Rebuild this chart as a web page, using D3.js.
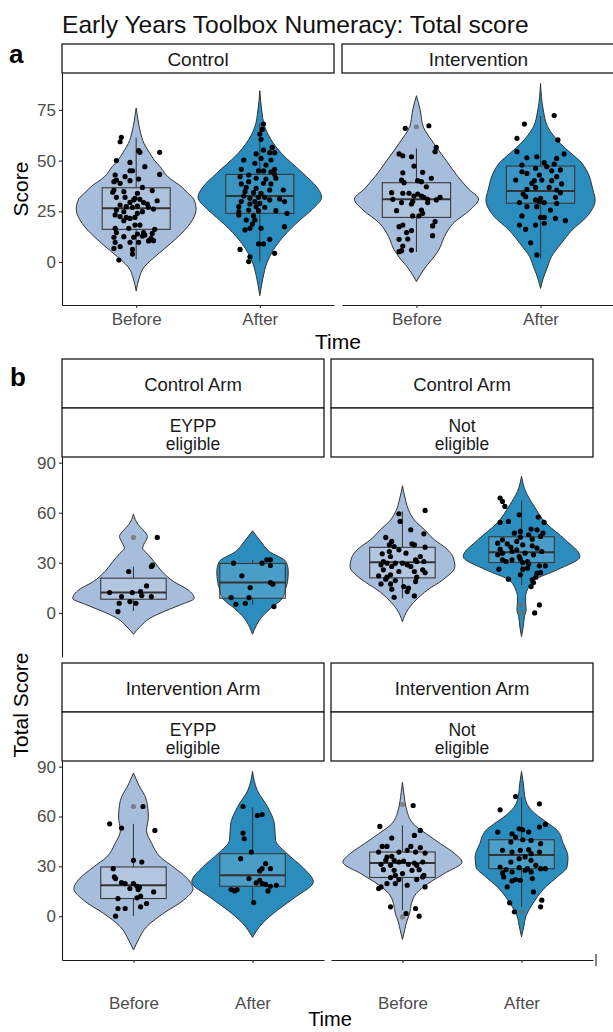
<!DOCTYPE html>
<html>
<head>
<meta charset="utf-8">
<script src="https://cdn.jsdelivr.net/npm/d3@7"></script>
<style>
body { margin: 0; background: #fff; }
</style>
</head>
<body>
<script>
const FONT = "'Liberation Sans', Arial, sans-serif";

// ---- categories / labels ----
const times = ["Before", "After"];
const timeFill = ["#a6bddb", "#2b8cbe"];
const armsA = ["Control", "Intervention"];
const armsB = ["Control Arm", "Intervention Arm"];
const eligB = [["EYPP", "eligible"], ["Not", "eligible"]];
const ticksA = [0, 25, 50, 75];
const ticksB = [0, 30, 60, 90];

// ---- panel a: jittered points [offset in category widths, score] ----
const ptsCtrlBefore = [[-0.12,61.5],[-0.13,59.3],[0.02,54.9],[0.03,54.1],[0.19,54.1],[-0.16,50],[-0.05,49.1],[0.07,47],[-0.05,45],[-0.03,45],[-0.17,42.9],[0.19,43.2],[-0.09,42.1],[0.02,40.9],[-0.16,40.4],[-0.18,39.6],[-0.05,40.1],[-0.13,38.8],[0.05,36.8],[-0.18,35.5],[-0.1,34.7],[-0.19,34.4],[0.01,33.9],[0.13,35.2],[-0.16,31.9],[-0.09,31.9],[-0.01,31.4],[-0.02,30.6],[0.03,30.9],[0.17,30.2],[-0.05,29.4],[0.06,29.3],[0.09,28.6],[-0.13,28.1],[-0.08,27.3],[0.01,27.6],[-0.03,27],[0.1,27],[0.14,26.1],[-0.16,25.6],[-0.1,24.8],[0.01,24],[0.05,24.8],[-0.17,23.2],[-0.13,22.4],[-0.05,21.5],[-0.01,22],[-0.1,20.4],[-0.08,22],[0.03,18.2],[-0.01,18.2],[-0.17,16.6],[-0.06,16.6],[0.15,16.1],[-0.16,14.5],[0.01,13.8],[0.06,14.5],[0.13,14.1],[-0.18,12.2],[-0.1,12.5],[0.05,12.8],[0.07,13.3],[-0.02,12.2],[0.12,11.7],[0.11,10.8],[-0.17,9.7],[0.02,9.7],[0.1,10.4],[0.14,10.5],[-0.05,9.7],[-0.13,7.6],[-0.03,6.2],[-0.18,6.7],[-0.03,3.9],[-0.14,1]];
const ptsCtrlAfter = [[0.03,68],[0.02,65.4],[0,63.1],[0.01,60.5],[0.1,56.5],[0.03,55.2],[0.08,53.9],[0.12,53.9],[-0.03,53.3],[0.01,51.1],[-0.13,50.3],[-0.04,48.7],[0.09,50.3],[0.05,47.8],[0.12,45.7],[-0.15,45.7],[-0.01,44.9],[0.03,44.9],[0.09,44.5],[-0.09,42.9],[0.12,43.2],[-0.16,42.1],[-0.03,41.3],[0.05,40.9],[0.13,41.3],[-0.09,39.6],[-0.15,38.5],[0.03,38.8],[0.09,38.5],[-0.11,36.8],[-0.03,36.3],[0.08,35.5],[0.19,35.5],[-0.12,34.7],[-0.05,34.2],[0.01,33.9],[-0.13,32.5],[-0.08,31.4],[-0.01,31.9],[0.04,31.9],[0.08,30.6],[0.16,31.1],[-0.15,29.8],[-0.04,29.8],[-0.08,28.6],[0,28.9],[0.2,29.8],[-0.17,27.3],[-0.03,27.3],[0.04,27],[-0.09,25.6],[-0.17,24.8],[-0.01,25.3],[0.13,25.3],[-0.17,23.2],[0.22,24],[-0.05,22.7],[-0.11,20.7],[-0.04,20.7],[-0.06,18.7],[-0.08,16.6],[0.01,16.6],[-0.12,15.8],[0.2,17.4],[0.08,11.2],[-0.01,8.9],[0.03,8.9],[-0.16,6.2],[0.12,4.3],[-0.08,2.6],[-0.09,0.2]];
const ptsIntBefore = [[-0.09,65.9],[0.1,67.2],[0.16,56.5],[0.15,54.4],[-0.14,53.3],[-0.11,52.4],[-0.04,51.9],[-0.02,47.3],[-0.11,44],[0.05,44.2],[0.12,41.3],[-0.12,40.4],[-0.1,39.1],[0.01,40.1],[0.04,39.6],[0.08,37.1],[-0.2,34.2],[-0.11,33.9],[-0.06,33.9],[0.01,33.5],[0.04,32.5],[-0.19,30.9],[-0.02,32.5],[0.06,31.9],[0.09,30.9],[0.19,31.9],[0.16,30.6],[-0.12,29.3],[-0.04,28.6],[-0.03,29.8],[0.09,29.3],[-0.16,25.3],[0.04,25.6],[0.05,24],[0.02,22.7],[-0.03,22.7],[0.15,19.9],[-0.11,18.2],[-0.14,17.4],[0.13,17.8],[-0.04,15.5],[0.13,13],[-0.08,14.5],[-0.14,11.2],[-0.07,11.3],[-0.11,7.9],[-0.12,5.6],[-0.04,5.9],[-0.14,5.1]];
const ptsIntAfter = [[0.11,72.2],[-0.13,68],[-0.19,61],[0.14,60.2],[-0.19,54.4],[0.19,53.3],[-0.11,51.4],[-0.03,51.9],[0.13,51.1],[-0.15,47.8],[0.03,49],[0.11,48.3],[-0.04,46.2],[0.05,47],[-0.15,44.5],[0.09,45],[0.16,45.4],[-0.11,43.7],[-0.01,42.9],[0.13,42.1],[-0.2,40.4],[-0.05,40.1],[0.01,40.4],[0.09,40.1],[-0.07,38.8],[0.17,38.5],[-0.11,35.8],[-0.04,36.8],[0.07,36.8],[0.13,35.5],[-0.14,33.5],[0.16,34.2],[-0.12,32.2],[0,31.4],[0.12,31.9],[-0.17,29.3],[-0.04,30.6],[-0.01,29.8],[0.03,29.3],[0.13,28.9],[-0.11,27.3],[-0.03,27.3],[0.08,25.6],[-0.15,22.7],[0.03,22],[0,22],[0.12,21.5],[0.2,20.4],[-0.04,18.2],[-0.17,18.2],[-0.12,16.1],[0.03,19.1],[-0.08,9.5],[-0.03,3.5]];

// ---- panel b: jittered points ----
const ptsCtrlEyppBefore = [[0.2,45.2],[-0.04,24.8],[0.15,27.8],[0.16,28.6],[0.11,16.2],[-0.2,12.2],[-0.1,9.8],[-0.01,12.2],[0.06,12.8],[0.07,10.4],[0.15,9.8],[-0.12,5.8],[-0.03,6.8],[0.02,5.8],[-0.13,0.8]];
const ptsCtrlEyppAfter = [[-0.16,29.8],[0.08,29.8],[0.12,31.8],[0.15,31.8],[0.15,28.4],[-0.09,22.2],[0.15,18.2],[-0.02,15.2],[0.17,17.2],[-0.18,9.2],[-0.03,9.2],[-0.14,5.2],[-0.06,5.8],[0.18,3.8]];
const ptsCtrlNotBefore = [[-0.03,59.4],[0.19,61.4],[-0.02,54.8],[0.07,49.8],[0.18,47.4],[-0.14,45.2],[-0.09,42.8],[-0.11,40.8],[0.08,41.4],[0.1,40.8],[-0.07,39.8],[0.19,39.4],[-0.11,36.8],[-0.03,37.8],[-0.17,35.4],[0.03,35.8],[-0.1,33.8],[0.15,33.8],[-0.16,30.8],[-0.13,29.8],[-0.06,29.8],[0,29.8],[0.04,28.8],[0.11,31.8],[0.12,30.8],[0.18,30.8],[-0.18,28.8],[-0.09,27.8],[0.07,27.8],[0.17,25.8],[-0.16,25.8],[-0.03,24.8],[0.1,24.8],[0.19,24.2],[-0.2,22.2],[-0.13,21.4],[-0.1,22.8],[0.12,21.4],[-0.14,20.2],[-0.06,19.4],[0.11,18.8],[-0.18,17.4],[-0.1,17.4],[0.01,15.8],[0.05,14.8],[-0.09,14.2],[0.04,12.8],[0.1,10.2],[-0.07,9.4]];
const ptsCtrlNotAfter = [[-0.18,68.8],[-0.16,66.8],[-0.14,63.8],[-0.02,58.8],[0.14,57.4],[-0.18,54.2],[-0.11,54.8],[0.19,54.2],[0.08,50.2],[-0.01,48.8],[0.13,49.8],[-0.06,47.8],[0.18,47.8],[0.16,45.8],[-0.16,43.8],[-0.01,45.4],[0.06,46.8],[0.09,44.2],[-0.04,42.8],[-0.2,41.8],[-0.12,41.4],[-0.09,39.4],[0.01,40.8],[0.09,40.2],[0.13,38.8],[-0.18,38.2],[-0.04,37.8],[-0.16,35.8],[-0.08,36.8],[0.17,36.8],[-0.2,34.8],[0.03,35.8],[-0.02,33.8],[0.1,34.8],[-0.16,31.8],[-0.08,31.8],[-0.01,32.2],[0.05,30.8],[-0.13,30.8],[0.01,30.2],[0.06,29.4],[0.2,28.2],[0.15,28.2],[-0.19,26.2],[0.01,26.2],[0.05,26.8],[0.16,24.2],[-0.01,22.8],[0.13,23.8],[0.12,21.4],[-0.11,20.2],[0.09,19.8],[0.1,18.2],[0.08,15.8],[0.15,4.8],[0.11,0]];
const ptsIntEyppBefore = [[0.08,66],[-0.2,55.6],[-0.1,53],[0.18,51.6],[0,33.6],[0.07,32.6],[-0.17,28.6],[-0.16,23.6],[-0.15,22.6],[-0.1,20.2],[-0.07,19.6],[0,19.6],[0.03,18],[0.05,17.2],[0.04,16],[-0.03,16.6],[0.17,14.6],[0.06,12],[-0.13,10.6],[0.03,11],[0.06,5.6],[0.11,7.6],[-0.13,4.6],[-0.07,4.6],[-0.15,0]];
const ptsIntEyppAfter = [[-0.08,66],[0.04,60.6],[0.08,61.2],[-0.08,50],[-0.07,46.6],[-0.01,38.6],[-0.1,34.6],[0.11,31.6],[0.08,28.6],[0.15,28.6],[0.06,27.2],[-0.03,22.6],[0.06,21.6],[0.03,20],[-0.18,16],[-0.15,15.2],[-0.13,16],[0.08,19.6],[0.11,19.2],[0.15,18],[0.2,18.6],[0.13,15.2],[0.01,8.2]];
const ptsIntNotBefore = [[0.09,66.6],[-0.19,54],[0.15,51.6],[-0.09,47],[0.1,48.6],[-0.17,42],[-0.13,42],[0.07,42],[-0.03,38.6],[0.04,39.6],[0.11,38.6],[0.15,41.2],[0.19,38],[-0.2,38.6],[-0.13,35.6],[-0.09,36],[-0.14,33.6],[-0.07,33.6],[-0.03,32.6],[0.01,33.2],[0.05,31.2],[0.1,32],[0.17,32.6],[-0.18,31.2],[-0.1,30.6],[0.12,30.6],[-0.16,28],[-0.07,27.6],[0.08,27.6],[0.14,28],[-0.06,24.6],[0,25.6],[0.18,24.6],[-0.1,23.2],[0.12,22],[0.17,23.6],[-0.03,22],[-0.13,19.6],[-0.06,19.6],[-0.18,17.6],[0.04,18.6],[0.19,17.6],[-0.2,16.6],[-0.1,5.6],[0.11,4.6],[0.03,1.6],[0.14,0]];
const ptsIntNotAfter = [[-0.05,72],[0.15,67.6],[-0.18,64],[0.2,55.2],[0.15,53.6],[-0.2,50.6],[-0.02,52.6],[0.01,52],[-0.08,49.6],[0.06,50.6],[-0.05,47.6],[0.01,46],[-0.09,44.6],[0.08,45.6],[-0.16,39.6],[-0.08,38.6],[-0.01,39.6],[0.06,40],[0.08,37.6],[0.16,43.6],[0.15,38.6],[-0.02,34.6],[0.03,35.6],[0.08,33.6],[-0.09,32.6],[-0.18,29.6],[-0.13,28],[-0.02,29.2],[0.05,28.6],[0.12,30.6],[-0.08,26.6],[0.03,27.6],[0.16,28.6],[0.2,28.6],[-0.16,26],[0.08,26.6],[-0.15,23.6],[-0.05,22],[-0.01,21.6],[0.09,22.6],[-0.08,21.2],[-0.12,17.6],[0.1,14.6],[-0.1,8],[0.17,9.6],[0.16,5.6],[-0.06,2.6]];

// ---- violin outlines: [score, relative density] ----
const violCtrlBefore = [[-14.3,0],[-8,0.05],[-3,0.12],[1,0.25],[6,0.45],[12.5,0.7],[19,0.9],[26,1],[31,0.96],[34,0.86],[37,0.76],[42,0.53],[47,0.4],[50.3,0.3],[54,0.22],[58.5,0.13],[64,0.07],[70,0.03],[76,0]];
const violCtrlAfter = [[-16.6,0],[-8,0.05],[0,0.12],[6,0.22],[12.5,0.38],[20.7,0.65],[26,0.85],[32,1],[37,0.92],[43.7,0.7],[53.6,0.35],[58.5,0.22],[66.7,0.08],[75,0.03],[84.5,0]];
const violIntBefore = [[-9.7,0],[-6,0.07],[-2,0.16],[2,0.27],[6,0.36],[12.5,0.45],[19,0.59],[25.6,0.86],[31,1],[36,0.84],[42,0.67],[50,0.48],[58.5,0.28],[66.7,0.11],[75,0.06],[82,0]];
const violIntAfter = [[-13,0],[-8,0.05],[-3,0.12],[2.6,0.2],[9.2,0.38],[15.8,0.58],[22.4,0.85],[30.6,1],[35.5,0.96],[45.4,0.84],[49,0.75],[53.6,0.56],[58.5,0.36],[66.7,0.13],[75,0.05],[88,0]];
const violCtrlEyppBefore = [[-12.8,0],[-8.2,0.11],[-3.2,0.27],[0.8,0.5],[4.8,0.77],[8.8,1],[13.8,0.9],[18.8,0.66],[24.8,0.47],[30.8,0.34],[35.8,0.22],[38.8,0.15],[41,0.17],[45.8,0.23],[50,0.15],[52.8,0.08],[59.2,0]];
const violCtrlEyppAfter = [[-12.8,0],[-8.2,0.09],[-3.2,0.23],[2.8,0.51],[8.8,0.84],[14.8,0.93],[18.8,0.98],[24.8,1],[30.8,0.93],[36.8,0.47],[42.8,0.23],[49.2,0]];
const violCtrlNotBefore = [[-5.2,0],[1.8,0.1],[7.8,0.26],[13.8,0.48],[19.8,0.77],[27.8,1],[33.8,0.96],[38.8,0.83],[43.8,0.61],[50.8,0.39],[54.8,0.25],[60,0.14],[68.8,0.05],[76.2,0]];
const violCtrlNotAfter = [[-14.2,0],[-8,0.03],[-2,0.05],[2,0.08],[6,0.07],[10,0.07],[13.8,0.1],[19.8,0.22],[25.8,0.61],[33.8,1],[43.8,0.75],[53.8,0.42],[64.8,0.2],[72.8,0.07],[81.8,0]];
const violIntEyppBefore = [[-20.4,0],[-14.4,0.08],[-6.4,0.22],[1.6,0.5],[9.6,0.84],[16.6,1],[21.6,0.93],[29.6,0.67],[35.6,0.45],[43.6,0.31],[51.6,0.22],[59.6,0.25],[69.6,0.22],[79.6,0.08],[86.2,0]];
const violIntEyppAfter = [[-12.8,0],[-4.4,0.16],[3.6,0.41],[11.6,0.71],[20.6,1],[29.6,0.82],[37.6,0.57],[45.6,0.38],[55.6,0.36],[65.6,0.25],[75.6,0.08],[87.2,0]];
const violIntNotBefore = [[-14,0],[-8,0.04],[-3.4,0.07],[1.6,0.12],[7.6,0.15],[13.6,0.23],[19.6,0.43],[25.6,0.7],[32.6,1],[37.6,0.88],[43.6,0.64],[49.6,0.4],[55.6,0.18],[65.6,0.06],[72,0.03],[80.6,0]];
const violIntNotAfter = [[-12.4,0],[-6,0.05],[-0.4,0.09],[5.6,0.2],[11.6,0.34],[17.6,0.52],[23.6,0.77],[29.6,0.98],[35.6,1],[43.6,0.9],[51.6,0.77],[55.6,0.59],[60.6,0.34],[65.6,0.16],[72,0.07],[79.6,0.04],[87.2,0]];
// widest half-width of each violin, in category widths
const violinWidthA = [0.485, 0.50, 0.50, 0.44];
const violinWidthB = [0.51, 0.30, 0.44, 0.49, 0.50, 0.51, 0.50, 0.39];

// ---- box stats: [lower whisker, q1, median, q3, upper whisker] ----
const boxCtrlBefore = [1.3, 16.1, 26.5, 36.6, 61.3];
const boxCtrlAfter = [0.2, 24, 32.5, 43.2, 68.4];
const boxIntBefore = [5, 22, 31, 39.1, 56];
const boxIntAfter = [1.8, 29, 35, 47.3, 72];
const boxCtrlEyppBefore = [1.2, 8.2, 12.2, 20.8, 27.8];
const boxCtrlEyppAfter = [4.8, 8.8, 18.2, 29.6, 31.8];
const boxCtrlNotBefore = [8.8, 21, 30.3, 39.3, 60.8];
const boxCtrlNotAfter = [16.8, 30.2, 36.3, 45.6, 67.4];
const boxIntEyppBefore = [0, 10.6, 18.6, 29.6, 55.6];
const boxIntEyppAfter = [8.2, 18, 24.6, 37.6, 65.6];
const boxIntNotBefore = [3.6, 23.3, 32, 38.6, 54.6];
const boxIntNotAfter = [5.6, 28.6, 36.8, 46, 71.6];
// box-plot outliers
const outIntBefore = [66.7];
const outCtrlEyppBefore = [45.2];
const outCtrlNotAfter = [4.8, 0.2];
const outIntEyppBefore = [66];
const outIntNotBefore = [67.2, -0.4];
const outIntNotAfter = [2.6];

// ---- layout ----
const svg = d3.select("body").append("svg")
    .attr("width", 613)
    .attr("height", 1032)
    .style("font-family", FONT);

svg.append("rect").attr("width", 613).attr("height", 1032).attr("fill", "#fff");

function styleAxis(g) {
    g.attr("font-size", 17).attr("font-family", FONT);
    g.select(".domain").attr("stroke", "#1a1a1a").attr("stroke-width", 1.1);
    g.selectAll(".tick line").attr("stroke", "#333").attr("stroke-width", 1.1);
    g.selectAll(".tick text").attr("fill", "#4d4d4d");
}

function strip(x0, x1, y0, y1, lines, base, size) {
    svg.append("rect")
        .attr("x", x0).attr("y", y0)
        .attr("width", x1 - x0).attr("height", y1 - y0)
        .attr("fill", "#fff").attr("stroke", "#1a1a1a").attr("stroke-width", 1.3);
    lines.forEach(function (t, i) {
        svg.append("text")
            .attr("x", (x0 + x1) / 2).attr("y", base[i])
            .attr("text-anchor", "middle")
            .attr("font-size", size)
            .attr("fill", "#1a1a1a")
            .text(t);
    });
}

// draw a violin + box + jittered points for one group
function drawGroup(x, y, ti, viol, half, box, out, pts, boxOpacity) {
    let xc = x(times[ti]),
        step = x.step(),
        hw = half * step,
        bw = 0.275 * step;
    let g = svg.append("g");

    let area = d3.area()
        .curve(d3.curveMonotoneY)
        .y(d => y(d[0]))
        .x0(d => xc - hw * d[1])
        .x1(d => xc + hw * d[1]);

    g.append("path")
        .datum(viol)
        .attr("d", area)
        .attr("fill", timeFill[ti])
        .attr("stroke", "#333")
        .attr("stroke-width", 1);

    // whiskers
    g.append("line")
        .attr("x1", xc).attr("x2", xc)
        .attr("y1", y(box[0])).attr("y2", y(box[1]))
        .attr("stroke", "#3a3a3a").attr("stroke-width", 1.1);
    g.append("line")
        .attr("x1", xc).attr("x2", xc)
        .attr("y1", y(box[3])).attr("y2", y(box[4]))
        .attr("stroke", "#3a3a3a").attr("stroke-width", 1.1);
    // box
    g.append("rect")
        .attr("x", xc - bw).attr("y", y(box[3]))
        .attr("width", 2 * bw).attr("height", y(box[1]) - y(box[3]))
        .attr("fill", "#fff").attr("fill-opacity", boxOpacity)
        .attr("stroke", "#3a3a3a").attr("stroke-width", 1.1);
    g.append("line")
        .attr("x1", xc - bw).attr("x2", xc + bw)
        .attr("y1", y(box[2])).attr("y2", y(box[2]))
        .attr("stroke", "#333").attr("stroke-width", 2);

    g.selectAll(".outlier")
        .data(out)
        .enter().append("circle")
        .attr("class", "outlier")
        .attr("cx", xc)
        .attr("cy", d => y(d))
        .attr("r", 2.6)
        .attr("fill", "#6b6b6b")
        .attr("fill-opacity", 0.7);

    g.selectAll(".pt")
        .data(pts)
        .enter().append("circle")
        .attr("class", "pt")
        .attr("cx", d => xc + d[0] * step)
        .attr("cy", d => y(d[1]))
        .attr("r", 2.6)
        .attr("fill", "#000");
}

// ================= PANEL A =================
svg.append("text")
    .attr("x", 62).attr("y", 33)
    .attr("font-size", 24.6)
    .attr("fill", "#111")
    .text("Early Years Toolbox Numeracy: Total score");

svg.append("text")
    .attr("x", 9).attr("y", 63)
    .attr("font-size", 26).attr("font-weight", "bold")
    .text("a");

const aTop = 73, aBot = 305;
const aPanelsX = [[62, 334], [342, 615]];
const yA = d3.scaleLinear().domain([-21.2, 93.2]).range([aBot, aTop]);

const groupsA = [
    [0, 0, violCtrlBefore, boxCtrlBefore, [], ptsCtrlBefore],
    [0, 1, violCtrlAfter, boxCtrlAfter, [], ptsCtrlAfter],
    [1, 0, violIntBefore, boxIntBefore, outIntBefore, ptsIntBefore],
    [1, 1, violIntAfter, boxIntAfter, [], ptsIntAfter]
];

const xA = aPanelsX.map(r => d3.scalePoint().domain(times).range(r).padding(0.6));

aPanelsX.forEach(function (r, i) {
    strip(r[0], r[1], 44, 73, [armsA[i]], [66], 19);
});

groupsA.forEach(function (d, i) {
    drawGroup(xA[d[0]], yA, d[1], d[2], violinWidthA[i], d[3], d[4], d[5], 0.08);
});

svg.append("g")
    .attr("transform", "translate(62,0)")
    .call(d3.axisLeft(yA).tickValues(ticksA).tickSize(3).tickSizeOuter(0).tickPadding(3))
    .call(styleAxis);

xA.forEach(function (x) {
    svg.append("g")
        .attr("transform", "translate(0," + aBot + ")")
        .call(d3.axisBottom(x).tickSize(3).tickSizeOuter(0).tickPadding(5))
        .call(styleAxis);
});

svg.append("text")
    .attr("transform", "translate(28," + ((aTop + aBot) / 2) + ") rotate(-90)")
    .attr("text-anchor", "middle")
    .attr("font-size", 21)
    .text("Score");

svg.append("text")
    .attr("x", 338).attr("y", 349)
    .attr("text-anchor", "middle")
    .attr("font-size", 21)
    .text("Time");

// ================= PANEL B =================
svg.append("text")
    .attr("x", 10).attr("y", 386)
    .attr("font-size", 26).attr("font-weight", "bold")
    .text("b");

const bPanelsX = [[62, 324], [331, 593]];
const bRows = [{strip: 359, top: 457, bot: 657}, {strip: 663, top: 761, bot: 960}];
const xB = bPanelsX.map(r => d3.scalePoint().domain(times).range(r).padding(0.6));
const yB = bRows.map(r => d3.scaleLinear().domain([-26.4, 93.4]).range([r.bot, r.top]));

// [row, column, time, violin, box, outliers, points]
const groupsB = [
    [0, 0, 0, violCtrlEyppBefore, boxCtrlEyppBefore, outCtrlEyppBefore, ptsCtrlEyppBefore],
    [0, 0, 1, violCtrlEyppAfter, boxCtrlEyppAfter, [], ptsCtrlEyppAfter],
    [0, 1, 0, violCtrlNotBefore, boxCtrlNotBefore, [], ptsCtrlNotBefore],
    [0, 1, 1, violCtrlNotAfter, boxCtrlNotAfter, outCtrlNotAfter, ptsCtrlNotAfter],
    [1, 0, 0, violIntEyppBefore, boxIntEyppBefore, outIntEyppBefore, ptsIntEyppBefore],
    [1, 0, 1, violIntEyppAfter, boxIntEyppAfter, [], ptsIntEyppAfter],
    [1, 1, 0, violIntNotBefore, boxIntNotBefore, outIntNotBefore, ptsIntNotBefore],
    [1, 1, 1, violIntNotAfter, boxIntNotAfter, outIntNotAfter, ptsIntNotAfter]
];

bRows.forEach(function (row, ri) {
    bPanelsX.forEach(function (px, ci) {
        strip(px[0], px[1], row.strip, row.strip + 49, [armsB[ri]], [row.strip + 32], 18.5);
        strip(px[0], px[1], row.strip + 49, row.top, eligB[ci], [row.strip + 72.5, row.strip + 91], 17.5);
    });
});

groupsB.forEach(function (d, i) {
    drawGroup(xB[d[1]], yB[d[0]], d[2], d[3], violinWidthB[i], d[4], d[5], d[6], 0.15);
});

// left axes (left column only)
yB.forEach(function (y) {
    svg.append("g")
        .attr("transform", "translate(62,0)")
        .call(d3.axisLeft(y).tickValues(ticksB).tickSize(3).tickSizeOuter(0).tickPadding(3))
        .call(styleAxis);
});

// bottom axes (lower row only)
xB.forEach(function (x) {
    svg.append("g")
        .attr("transform", "translate(0," + bRows[1].bot + ")")
        .call(d3.axisBottom(x).tickSize(3).tickSizeOuter(0).tickPadding(34))
        .call(styleAxis);
});

// stray end mark after the last axis
svg.append("line")
    .attr("x1", 596).attr("x2", 596)
    .attr("y1", bRows[1].bot - 6).attr("y2", bRows[1].bot + 6)
    .attr("stroke", "#333").attr("stroke-width", 1.2);

svg.append("text")
    .attr("transform", "translate(28,705) rotate(-90)")
    .attr("text-anchor", "middle")
    .attr("font-size", 21)
    .text("Total Score");

svg.append("text")
    .attr("x", 330).attr("y", 1026)
    .attr("text-anchor", "middle")
    .attr("font-size", 20)
    .text("Time");
</script>
</body>
</html>
